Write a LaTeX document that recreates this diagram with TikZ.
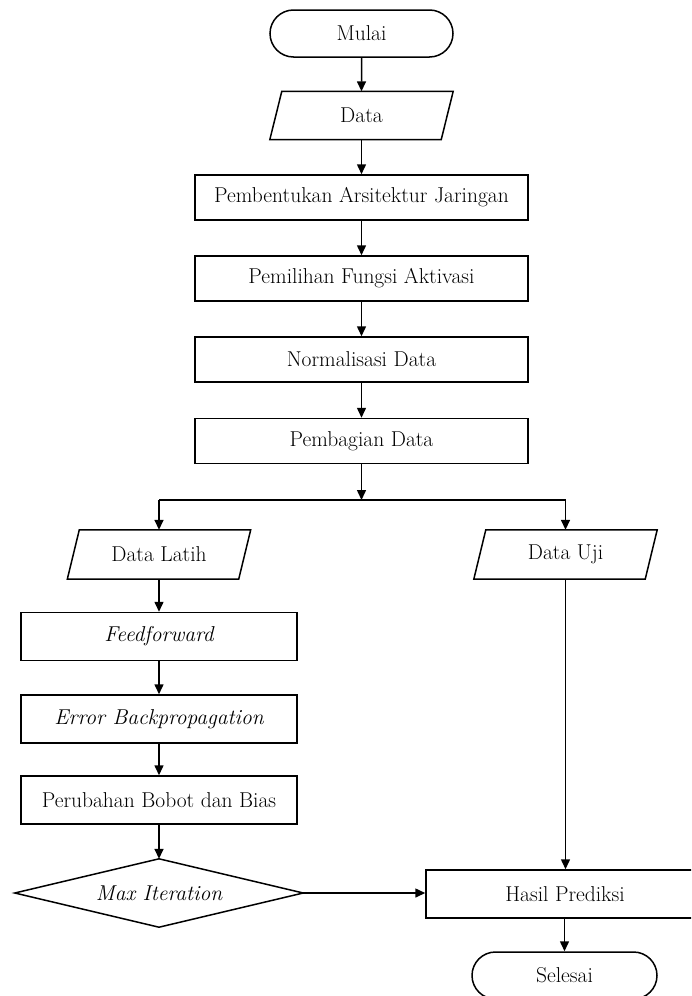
\documentclass[tikz,border=0pt]{standalone}
\usepackage{fontspec}
\usetikzlibrary{arrows.meta,shapes.misc}
\begin{document}
\begin{tikzpicture}[x=1pt,y=-1pt,
  every node/.style={font=\fontsize{21.5}{24}\selectfont},
  line/.style={line width=1.5pt},
  arr/.style={line width=1.5pt,-{Triangle[length=10pt,width=9pt]}},
  procbox/.style={draw,line width=1.5pt,rectangle,inner sep=0pt},
  termbox/.style={draw,line width=1.5pt,rounded rectangle,minimum width=183pt,minimum height=47pt,inner sep=0pt},
  iobox/.style={rectangle,inner sep=0pt,minimum width=183pt,minimum height=48pt}
]
\useasboundingbox (0,0) rectangle (691,996);
\clip (0,0) rectangle (691,996);

\node[termbox] (mulai) at (361.5,33.5) {Mulai};
\node[iobox] (data) at (361.5,115.5) {Data};
\node[procbox,minimum width=333pt,minimum height=45pt] (arsi) at (361.5,197.5) {Pembentukan Arsitektur Jaringan};
\node[procbox,minimum width=333pt,minimum height=45pt] (fungsi) at (361.5,278.5) {Pemilihan Fungsi Aktivasi};
\node[procbox,minimum width=333pt,minimum height=45pt] (norm) at (361.5,359.5) {Normalisasi Data};
\node[procbox,minimum width=333pt,minimum height=45pt] (bagi) at (361.5,441) {Pembagian Data};
\coordinate (split) at (361.5,500);

\node[iobox,minimum height=49pt] (latih) at (159,554.5) {Data Latih};
\node[iobox,minimum height=49pt] (uji) at (565.5,554.5) {Data Uji};

\node[procbox,minimum width=276pt,minimum height=48pt] (ff) at (159,636.5) {\itshape Feedforward};
\node[procbox,minimum width=276pt,minimum height=48pt] (ebp) at (159,719) {\itshape Error Backpropagation};
\node[procbox,minimum width=276pt,minimum height=48pt] (bobot) at (159,800) {Perubahan Bobot dan Bias};
\node[rectangle,inner sep=0pt,minimum width=288pt,minimum height=68pt] (maxit) at (159,893) {\itshape Max Iteration};
\node[procbox,minimum width=278pt,minimum height=48pt] (hasil) at (565,894) {Hasil Prediksi};
\node[termbox,minimum width=185pt] (selesai) at (564.5,975.5) {Selesai};

% parallelograms
\foreach \n in {data,latih,uji}{
  \draw[line,line join=miter] ([xshift=12pt]\n.north west) -- (\n.north east) -- ([xshift=-12pt]\n.south east) -- (\n.south west) -- cycle;
}
% diamond
\draw[line,line join=miter] (maxit.north) -- (maxit.east) -- (maxit.south) -- (maxit.west) -- cycle;

% connectors
\draw[arr] (mulai) -- (data);
\draw[arr] (data) -- (arsi);
\draw[arr] (arsi) -- (fungsi);
\draw[arr] (fungsi) -- (norm);
\draw[arr] (norm) -- (bagi);
\draw[arr] (bagi) -- (split);
\draw[line] (split -| latih) -- (split -| uji);
\draw[arr] (split -| latih) -- (latih.north);
\draw[arr] (split -| uji) -- (uji.north);
\draw[arr] (latih) -- (ff);
\draw[arr] (ff) -- (ebp);
\draw[arr] (ebp) -- (bobot);
\draw[arr] (bobot) -- (maxit.north);
\draw[arr] (maxit.east) -- (maxit.east -| hasil.west);
\draw[arr] (uji.south) -- (uji.south |- hasil.north);
\draw[arr] (hasil.south -| selesai) -- (selesai.north);
\end{tikzpicture}
\end{document}
